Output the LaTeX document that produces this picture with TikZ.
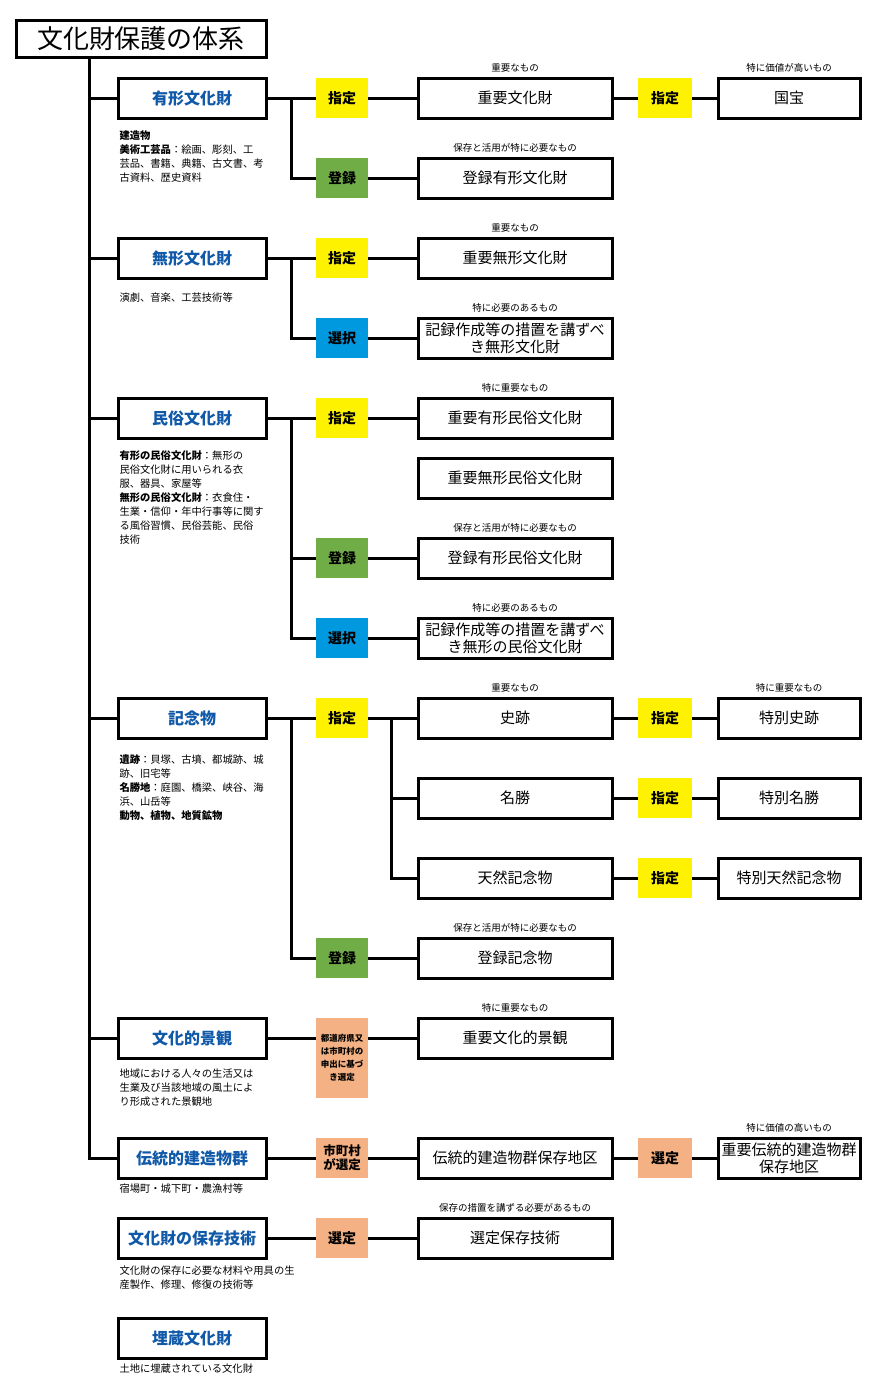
\documentclass[tikz,border=0pt]{standalone}
\usepackage{fontspec}
\setmainfont{Noto Sans CJK JP}
\definecolor{catblue}{RGB}{16,88,168}
\definecolor{tagyellow}{RGB}{255,242,0}
\definecolor{taggreen}{RGB}{112,173,71}
\definecolor{tagblue}{RGB}{0,153,224}
\definecolor{tagorange}{RGB}{244,177,131}
\tikzset{
  box/.style = {draw, line width=3pt, minimum height=40pt, inner sep=0pt, align=center},
  catbox/.style = {box, minimum width=148pt, text=catblue, font=\fontsize{16}{18}\selectfont\bfseries},
  itembox/.style = {box, minimum width=194pt, font=\fontsize{15}{17}\selectfont},
  endbox/.style = {box, minimum width=142pt, font=\fontsize{15}{17}\selectfont},
  tag/.style = {fill=#1, minimum width=52pt, minimum height=40pt, inner sep=0pt, outer sep=0pt,
    align=center, font=\fontsize{14}{16}\selectfont\bfseries},
  notelabel/.style = {font=\fontsize{9.5}{11}\selectfont, inner sep=2pt},
  note/.style = {label={[notelabel, label distance=1pt]above:#1}},
  desc/.style = {anchor=north west, align=left, inner sep=0pt, font=\fontsize{10.3}{14}\selectfont},
}
\begin{document}
\begin{tikzpicture}[x=1pt, y=-1pt, line width=3pt]
\useasboundingbox (0,0) rectangle (881,1393);
\node[box, minimum width=250pt, minimum height=37pt, font=\fontsize{26}{28}\selectfont] (title) at (141,38.5) {文化財保護の体系};

% categories
\node[catbox] (yukei) at (192,98) {有形文化財};
\node[catbox] (mukei) at (192,258) {無形文化財};
\node[catbox] (minzoku) at (192,418) {民俗文化財};
\node[catbox] (kinen) at (192,718) {記念物};
\node[catbox] (keikan) at (192,1038) {文化的景観};
\node[catbox] (dento) at (192,1158) {伝統的建造物群};
\node[catbox] (hozon) at (192,1238) {文化財の保存技術};
\node[catbox] (maizo) at (192,1338) {埋蔵文化財};

\node[desc] (yukei-desc) at (118,129) {\textbf{建造物}\\\textbf{美術工芸品}：絵画、彫刻、工\\芸品、書籍、典籍、古文書、考\\古資料、歴史資料};
\node[desc] (mukei-desc) at (118,291) {演劇、音楽、工芸技術等};
\node[desc] (minzoku-desc) at (118,449) {\textbf{有形の民俗文化財}：無形の\\民俗文化財に用いられる衣\\服、器具、家屋等\\\textbf{無形の民俗文化財}：衣食住・\\生業・信仰・年中行事等に関す\\る風俗習慣、民俗芸能、民俗\\技術};
\node[desc] (kinen-desc) at (118,753) {\textbf{遺跡}：貝塚、古墳、都城跡、城\\跡、旧宅等\\\textbf{名勝地}：庭園、橋梁、峡谷、海\\浜、山岳等\\\textbf{動物、植物、地質鉱物}};
\node[desc] (keikan-desc) at (118,1067) {地域における人々の生活又は\\生業及び当該地域の風土によ\\り形成された景観地};
\node[desc] (dento-desc) at (118,1182) {宿場町・城下町・農漁村等};
\node[desc] (hozon-desc) at (118,1264) {文化財の保存に必要な材料や用具の生\\産製作、修理、修復の技術等};
\node[desc] (maizo-desc) at (118,1362) {土地に埋蔵されている文化財};

% trunk
\coordinate (trunk) at (89,57);
\foreach \c in {yukei,mukei,minzoku,kinen,keikan,dento}
  \draw (trunk) |- (\c.west);

% 有形文化財
\node[tag=tagyellow] (yukei-shitei) at (342,98) {指定};
\node[tag=taggreen] (yukei-toroku) at (342,178) {登録};
\node[itembox, note=重要なもの] (juyobunkazai) at (515,98) {重要文化財};
\node[tag=tagyellow, minimum width=54pt] (kokuho-shitei) at (665,98) {指定};
\node[endbox, note=特に価値が高いもの] (kokuho) at (789,98) {国宝};
\node[itembox, note=保存と活用が特に必要なもの] (torokuyukei) at (515,178) {登録有形文化財};
\draw (yukei) -- (yukei-shitei) -- (juyobunkazai) -- (kokuho-shitei) -- (kokuho);
\draw (yukei.east) -- ++(24,0) |- (yukei-toroku) -- (torokuyukei);

% 無形文化財
\node[tag=tagyellow] (mukei-shitei) at (342,258) {指定};
\node[tag=tagblue] (mukei-sentaku) at (342,338) {選択};
\node[itembox, note=重要なもの] (juyomukei) at (515,258) {重要無形文化財};
\node[itembox, note=特に必要のあるもの] (kirokumukei) at (515,338) {記録作成等の措置を講ずべ\\き無形文化財};
\draw (mukei) -- (mukei-shitei) -- (juyomukei);
\draw (mukei.east) -- ++(24,0) |- (mukei-sentaku) -- (kirokumukei);

% 民俗文化財
\node[tag=tagyellow] (minzoku-shitei) at (342,418) {指定};
\node[tag=taggreen] (minzoku-toroku) at (342,558) {登録};
\node[tag=tagblue] (minzoku-sentaku) at (342,638) {選択};
\node[itembox, note=特に重要なもの] (juyoyukeiminzoku) at (515,418) {重要有形民俗文化財};
\node[itembox] (juyomukeiminzoku) at (515,478) {重要無形民俗文化財};
\node[itembox, note=保存と活用が特に必要なもの] (torokuminzoku) at (515,558) {登録有形民俗文化財};
\node[itembox, note=特に必要のあるもの] (kirokuminzoku) at (515,638) {記録作成等の措置を講ずべ\\き無形の民俗文化財};
\draw (minzoku) -- (minzoku-shitei) -- (juyoyukeiminzoku);
\draw (minzoku.east) -- ++(24,0) |- (minzoku-toroku) -- (torokuminzoku);
\draw (minzoku.east) -- ++(24,0) |- (minzoku-sentaku) -- (kirokuminzoku);

% 記念物
\node[tag=tagyellow] (kinen-shitei) at (342,718) {指定};
\node[tag=taggreen] (kinen-toroku) at (342,958) {登録};
\node[itembox, note=重要なもの] (shiseki) at (515,718) {史跡};
\node[itembox] (meisho) at (515,798) {名勝};
\node[itembox] (tennen) at (515,878) {天然記念物};
\node[itembox, note=保存と活用が特に必要なもの] (torokukinen) at (515,958) {登録記念物};
\node[tag=tagyellow, minimum width=54pt] (shiseki-shitei) at (665,718) {指定};
\node[tag=tagyellow, minimum width=54pt] (meisho-shitei) at (665,798) {指定};
\node[tag=tagyellow, minimum width=54pt] (tennen-shitei) at (665,878) {指定};
\node[endbox, note=特に重要なもの] (tokushiseki) at (789,718) {特別史跡};
\node[endbox] (tokumeisho) at (789,798) {特別名勝};
\node[endbox] (tokutennen) at (789,878) {特別天然記念物};
\draw (kinen) -- (kinen-shitei) -- (shiseki);
\draw (kinen-shitei.east) -- ++(23,0) |- (meisho);
\draw (kinen-shitei.east) -- ++(23,0) |- (tennen);
\draw (kinen.east) -- ++(24,0) |- (kinen-toroku) -- (torokukinen);
\draw (shiseki) -- (shiseki-shitei) -- (tokushiseki);
\draw (meisho) -- (meisho-shitei) -- (tokumeisho);
\draw (tennen) -- (tennen-shitei) -- (tokutennen);

% 文化的景観
\node[tag=tagorange, minimum height=80pt, anchor=north, font=\fontsize{8.5}{13}\selectfont\bfseries] (keikan-sentei) at (342,1018) {都道府県又\\は市町村の\\申出に基づ\\き選定};
\node[itembox, note=特に重要なもの] (juyokeikan) at (515,1038) {重要文化的景観};
\draw (keikan) -- (keikan.east -| keikan-sentei.west);
\draw (keikan-sentei.east |- keikan) -- (juyokeikan);

% 伝統的建造物群
\node[tag=tagorange, font=\fontsize{12.5}{14}\selectfont\bfseries] (dento-sentei) at (342,1158) {市町村\\が選定};
\node[itembox] (hozonchiku) at (515,1158) {伝統的建造物群保存地区};
\node[tag=tagorange, minimum width=54pt] (juyodento-sentei) at (665,1158) {選定};
\node[endbox, note=特に価値の高いもの] (juyodento) at (789,1158) {重要伝統的建造物群\\保存地区};
\draw (dento) -- (dento-sentei) -- (hozonchiku) -- (juyodento-sentei) -- (juyodento);

% 文化財の保存技術
\node[tag=tagorange] (hozon-sentei) at (342,1238) {選定};
\node[itembox, note=保存の措置を講ずる必要があるもの] (senteihozon) at (515,1238) {選定保存技術};
\draw (hozon) -- (hozon-sentei) -- (senteihozon);
\end{tikzpicture}
\end{document}
